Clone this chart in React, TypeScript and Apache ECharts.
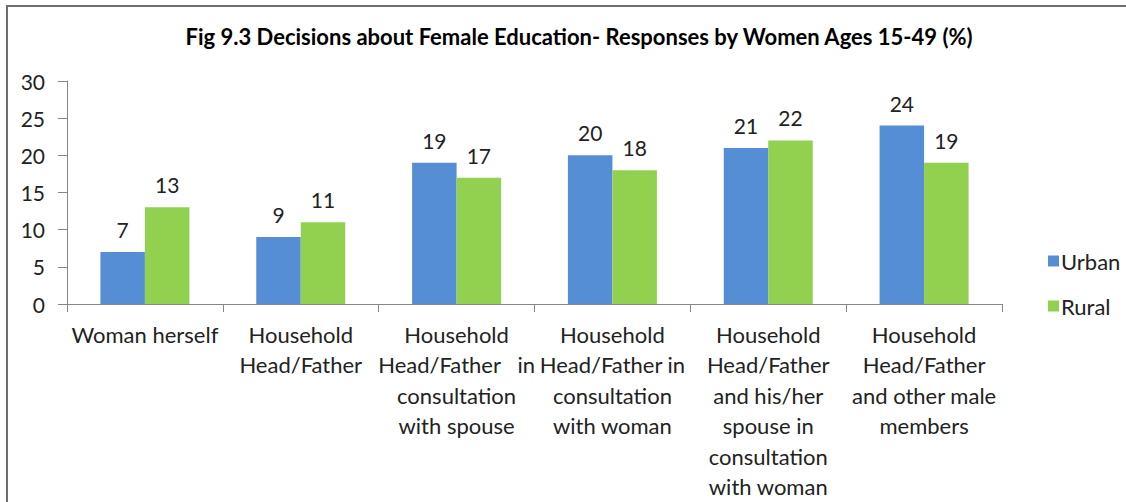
import React, { useEffect, useRef } from "react";
import * as echarts from "echarts";

const categories = [
  "Woman herself",
  "Household\nHead/Father",
  "Household\nHead/Father   in\nconsultation\nwith spouse",
  "Household\nHead/Father in\nconsultation\nwith woman",
  "Household\nHead/Father\nand his/her\nspouse in\nconsultation\nwith woman",
  "Household\nHead/Father\nand other male\nmembers",
];
const urban = [7, 9, 19, 20, 21, 24];
const rural = [13, 11, 17, 18, 22, 19];
const seriesNames = ["Urban", "Rural"];
const titleText = "Fig 9.3 Decisions about Female Education- Responses by Women Ages 15-49 (%)";

const FONT = "Lato, 'Open Sans', sans-serif";

export default function App() {
  const ref = useRef<HTMLDivElement>(null);
  useEffect(() => {
    if (!ref.current) return;
    const chart = echarts.init(ref.current, null, { renderer: "svg" });
    chart.setOption({
      animation: false,
      backgroundColor: "#ffffff",
      textStyle: { fontFamily: FONT },
      title: {
        text: titleText,
        left: 574,
        top: 20,
        textAlign: "center",
        textStyle: { fontFamily: FONT, fontSize: 22, fontWeight: "bold", color: "#000" },
      },
      graphic: [
        {
          type: "rect",
          shape: { x: 7, y: 6, width: 1140, height: 520 },
          style: { fill: "none", stroke: "#6e6e6e", lineWidth: 2 },
          silent: true,
        },
      ],
      legend: {
        orient: "vertical",
        left: 1043,
        top: 244,
        itemWidth: 11,
        itemHeight: 11,
        itemGap: 21,
        icon: "rect",
        textStyle: { fontFamily: FONT, fontSize: 22, lineHeight: 24, color: "#222", padding: [0, 0, 0, -3] },
        data: seriesNames,
      },
      grid: { left: 67, right: 124, top: 81, bottom: 188, containLabel: false },
      xAxis: {
        type: "category",
        data: categories,
        axisLine: { lineStyle: { color: "#868686", width: 1 } },
        axisTick: { show: true, length: 8, alignWithLabel: false, lineStyle: { color: "#868686" } },
        axisLabel: {
          interval: 0,
          fontFamily: FONT,
          fontSize: 22,
          color: "#222",
          lineHeight: 30.5,
          margin: 15,
          align: "center",
        },
      },
      yAxis: {
        type: "value",
        min: 0,
        max: 30,
        interval: 5,
        splitLine: { show: false },
        axisLine: { show: true, lineStyle: { color: "#868686", width: 1 } },
        axisTick: { show: true, length: 9, lineStyle: { color: "#868686" } },
        axisLabel: { fontFamily: FONT, fontSize: 21, color: "#222", margin: 22 },
      },
      series: [
        {
          name: seriesNames[0],
          type: "bar",
          data: urban,
          barWidth: 44.5,
          barGap: "0%",
          barCategoryGap: "43%",
          itemStyle: { color: "#558ED5" },
          label: { show: true, position: "top", distance: 12, fontFamily: FONT, fontSize: 21, color: "#222" },
        },
        {
          name: seriesNames[1],
          type: "bar",
          data: rural,
          barWidth: 44.5,
          barGap: "0%",
          itemStyle: { color: "#92D050" },
          label: { show: true, position: "top", distance: 12, fontFamily: FONT, fontSize: 21, color: "#222" },
        },
      ],
    });
    return () => chart.dispose();
  }, []);
  return (
    <div
      ref={ref}
      style={{ position: "fixed", left: 0, top: 0, width: 1126, height: 502, background: "#fff" }}
    />
  );
}
